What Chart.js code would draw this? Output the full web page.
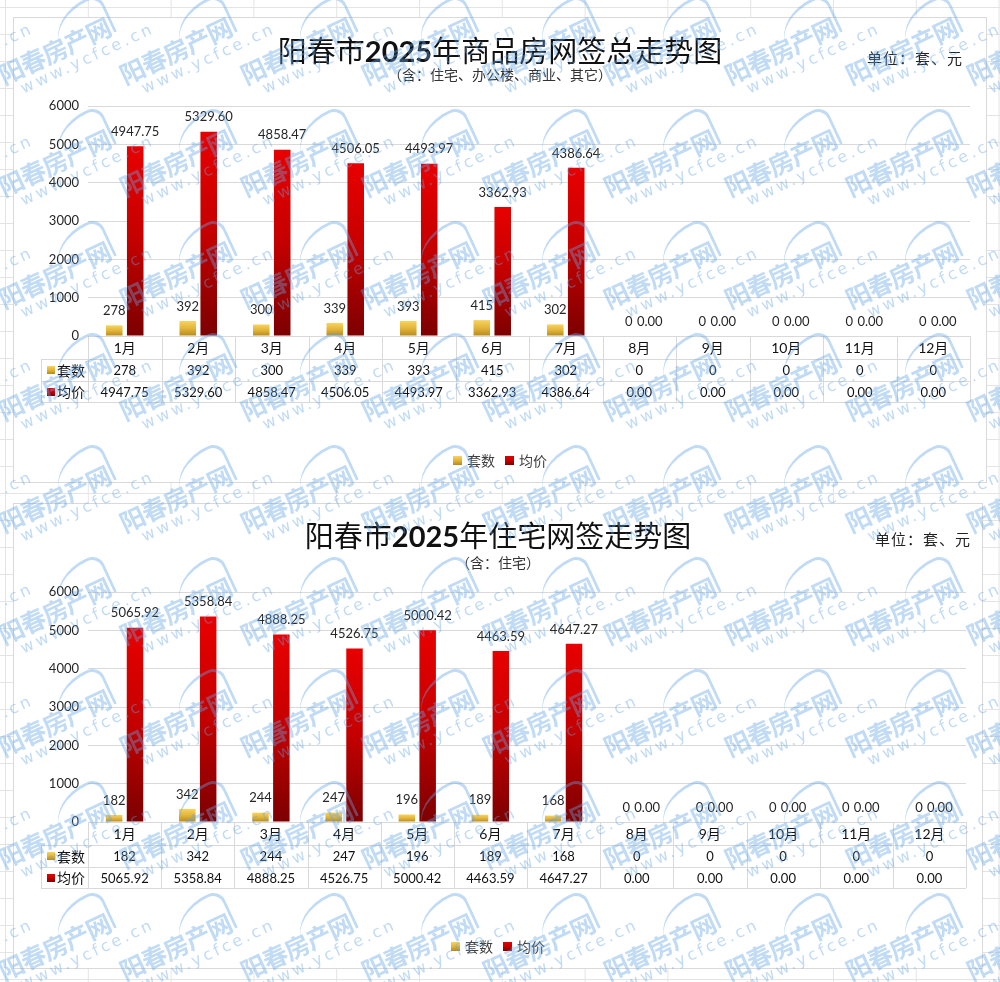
<!DOCTYPE html>
<html lang="zh-CN">
<head>
<meta charset="utf-8">
<title>阳春市2025年网签走势图</title>
<script src="https://cdn.jsdelivr.net/npm/chart.js@4.4.1/dist/chart.umd.min.js"></script>
<style>
  html, body { margin: 0; padding: 0; }
  body {
    width: 1000px; height: 982px; position: relative; overflow: hidden;
    background-color: #fff;
    background-image:
      linear-gradient(to right, #e4e4e4 1px, transparent 1px),
      linear-gradient(to bottom, #e4e4e4 1px, transparent 1px);
    background-size: 82.8px 27px;
    background-position: 5px 7px;
    font-family: Lato, "Noto Sans CJK SC", sans-serif;
  }
  .box { position: absolute; left: 13px; background: #fff; border: 1px solid #d9d9d9; box-sizing: border-box; }
  .box canvas { position: absolute; left: 0; top: 0; }
  .title { position: absolute; left: 0; right: 0; text-align: center; font-size: 29px; line-height: 1; color: #111;
           font-family: "Noto Sans CJK SC", sans-serif; white-space: nowrap; }
  .title b { font-family: Lato, sans-serif; font-weight: 700; }
  .sub { position: absolute; left: 0; right: 0; text-align: center; font-size: 14px; line-height: 1; color: #333;
         font-family: "Noto Sans CJK SC", sans-serif; }
  .unit { position: absolute; font-size: 15px; line-height: 1; color: #222; letter-spacing: 1px;
          font-family: "Noto Sans CJK SC", sans-serif; }
  #wm { position: absolute; left: 0; top: 0; width: 1000px; height: 982px; pointer-events: none; overflow: hidden; }
  .tile { position: absolute; transform-origin: 0 26px; transform: rotate(-25deg); color: rgba(100, 165, 230, 0.4); white-space: nowrap; }
  .tile .t1 { font: 700 25px/26px "Noto Sans CJK SC", sans-serif; letter-spacing: -1px; }
  .tile .t2 { font: 400 16px/18px "DejaVu Sans", sans-serif; letter-spacing: 3px; margin-left: 14px; }
  .tile .arch { position: absolute; left: 68px; top: -20px; width: 54px; height: 40px;
                border-top: 3px solid rgba(100, 165, 230, 0.4); border-right: 3px solid rgba(100, 165, 230, 0.4);
                border-top-left-radius: 50px 36px; border-top-right-radius: 16px 16px; }
</style>
</head>
<body>

<div class="box" style="top:17px; width:974px; height:466px;">
  <canvas id="chartAll" width="972" height="464"></canvas>
  <div class="title" style="top:17px;">阳春市<b>2025</b>年商品房网签总走势图</div>
  <div class="sub" style="top:49px;">（含：住宅、办公楼、商业、其它）</div>
  <div class="unit" style="left:853px; top:32px;">单位：套、元</div>
</div>

<div class="box" style="top:503px; width:970px; height:466px;">
  <canvas id="chartHome" width="968" height="464"></canvas>
  <div class="title" style="top:16px;">阳春市<b>2025</b>年住宅网签走势图</div>
  <div class="sub" style="top:51px;">（含：住宅）</div>
  <div class="unit" style="left:861px; top:27px;">单位：套、元</div>
</div>

<div id="wm"></div>

<script>
// ===== Datos =====
const months = ["1月", "2月", "3月", "4月", "5月", "6月", "7月", "8月", "9月", "10月", "11月", "12月"];
const seriesNames = ["套数", "均价"];

// 商品房（住宅、办公楼、商业、其它）
const allUnits = [278, 392, 300, 339, 393, 415, 302, 0, 0, 0, 0, 0];
const allPrice = [4947.75, 5329.60, 4858.47, 4506.05, 4493.97, 3362.93, 4386.64, 0, 0, 0, 0, 0];

// 住宅
const homeUnits = [182, 342, 244, 247, 196, 189, 168, 0, 0, 0, 0, 0];
const homePrice = [5065.92, 5358.84, 4888.25, 4526.75, 5000.42, 4463.59, 4647.27, 0, 0, 0, 0, 0];

const yTicks = [0, 1000, 2000, 3000, 4000, 5000, 6000];

// ===== Estilos =====
const FONT = 'Lato, "Noto Sans CJK SC", sans-serif';
const goldStops = [[0, "#f8d45c"], [0.5, "#e2b43a"], [1, "#b48a1e"]];
const redStops = [[0, "#e80000"], [0.5, "#c40000"], [1, "#7c0000"]];
const rowH = [23, 22, 21];

Chart.defaults.font.family = FONT;
Chart.defaults.color = "#262626";

// degradado por barra (de arriba hacia la base)
function barFill(stops, solid) {
  return (c) => {
    const chart = c.chart;
    if (c.type !== "data" || !chart.chartArea) return solid;
    const y = chart.scales.y;
    const top = y.getPixelForValue(c.raw);
    const base = y.getPixelForValue(0);
    if (base - top < 1) return solid;
    const g = chart.ctx.createLinearGradient(0, top, 0, base);
    stops.forEach(([o, col]) => g.addColorStop(o, col));
    return g;
  };
}

function keyBox(ctx, x, y, size, stops) {
  const g = ctx.createLinearGradient(0, y, 0, y + size);
  stops.forEach(([o, col]) => g.addColorStop(o, col));
  ctx.fillStyle = g;
  ctx.fillRect(x, y, size, size);
}

function fmt(ds, v) {
  return v.toFixed(ds.decimals);
}

// ===== Etiquetas sobre las barras =====
const valueLabels = {
  id: "valueLabels",
  afterDatasetsDraw(chart) {
    const ctx = chart.ctx;
    ctx.save();
    ctx.font = "13px " + FONT;
    ctx.fillStyle = "#262626";
    ctx.textAlign = "center";
    ctx.textBaseline = "bottom";
    chart.data.datasets.forEach((ds, di) => {
      chart.getDatasetMeta(di).data.forEach((bar, i) => {
        ctx.fillText(fmt(ds, ds.data[i]), bar.x, bar.y - 8);
      });
    });
    ctx.restore();
  },
};

// ===== Tabla de datos + leyenda =====
const dataTable = {
  id: "dataTable",
  afterDraw(chart) {
    const { ctx, chartArea } = chart;
    const xs = chart.scales.x;
    const n = chart.data.labels.length;
    const left = chartArea.left;
    const right = chartArea.right;
    const colW = (right - left) / n;
    const headL = 27;
    const r0 = chartArea.bottom;
    const rows = [r0, r0 + rowH[0], r0 + rowH[0] + rowH[1], r0 + rowH[0] + rowH[1] + rowH[2]];
    const px = (v) => Math.round(v) + 0.5;

    ctx.save();
    ctx.strokeStyle = "#d9d9d9";
    ctx.lineWidth = 1;
    ctx.beginPath();
    ctx.moveTo(left, px(rows[0])); ctx.lineTo(right, px(rows[0]));
    for (let r = 1; r < rows.length; r++) {
      ctx.moveTo(headL, px(rows[r])); ctx.lineTo(right, px(rows[r]));
    }
    for (let i = 0; i <= n; i++) {
      const xi = px(left + i * colW);
      ctx.moveTo(xi, rows[0]); ctx.lineTo(xi, rows[3]);
    }
    ctx.moveTo(px(headL), rows[1]); ctx.lineTo(px(headL), rows[3]);
    ctx.stroke();

    ctx.fillStyle = "#111";
    ctx.textAlign = "center";
    ctx.textBaseline = "middle";
    ctx.font = "14px " + FONT;
    chart.data.labels.forEach((lab, i) => {
      ctx.fillText(lab, xs.getPixelForValue(i), (rows[0] + rows[1]) / 2 + 1);
    });
    ctx.font = "13px " + FONT;
    chart.data.datasets.forEach((ds, di) => {
      const cy = (rows[di + 1] + rows[di + 2]) / 2 + 1;
      ds.data.forEach((v, i) => {
        ctx.fillText(fmt(ds, v), xs.getPixelForValue(i), cy);
      });
    });

    // claves de la tabla
    ctx.textAlign = "left";
    ctx.font = "14px " + FONT;
    chart.data.datasets.forEach((ds, di) => {
      const cy = (rows[di + 1] + rows[di + 2]) / 2;
      keyBox(ctx, headL + 6, Math.round(cy - 4), 8, ds.keyStops);
      ctx.fillStyle = "#111";
      ctx.fillText(ds.label, headL + 16, cy + 1);
    });

    // leyenda inferior
    const ly = rows[3] + 58;
    ctx.font = "14px " + FONT;
    const widths = chart.data.datasets.map((ds) => 9 + 5 + ctx.measureText(ds.label).width);
    const total = widths.reduce((a, b) => a + b, 0) + 10 * (widths.length - 1);
    let lx = chart.width / 2 - total / 2;
    chart.data.datasets.forEach((ds, di) => {
      keyBox(ctx, Math.round(lx), Math.round(ly - 4.5), 9, ds.keyStops);
      ctx.fillStyle = "#404040";
      ctx.fillText(ds.label, lx + 14, ly + 1);
      lx += widths[di] + 10;
    });
    ctx.restore();
  },
};

function makeChart(id, units, price) {
  const el = document.getElementById(id);
  return new Chart(el, {
    type: "bar",
    data: {
      labels: months,
      datasets: [
        {
          label: seriesNames[0],
          data: units,
          decimals: 0,
          keyStops: goldStops,
          backgroundColor: barFill(goldStops, "#e2b43a"),
          borderWidth: 0,
          categoryPercentage: 0.57,
          barPercentage: 0.79,
        },
        {
          label: seriesNames[1],
          data: price,
          decimals: 2,
          keyStops: redStops,
          backgroundColor: barFill(redStops, "#c40000"),
          borderWidth: 0,
          categoryPercentage: 0.57,
          barPercentage: 0.79,
        },
      ],
    },
    options: {
      responsive: false,
      animation: false,
      layout: { padding: { top: 88, right: 16, bottom: 46, left: 0 } },
      plugins: {
        legend: { display: false },
        tooltip: { enabled: false },
      },
      scales: {
        x: {
          ticks: { display: false },
          grid: { display: false },
          border: { display: false },
          afterFit: (s) => { s.height = 100; },
        },
        y: {
          min: yTicks[0],
          max: yTicks[yTicks.length - 1],
          ticks: {
            stepSize: yTicks[1] - yTicks[0],
            padding: 9,
            color: "#262626",
            font: { size: 13 },
            callback: (v) => String(v),
          },
          grid: { color: "#d9d9d9", drawTicks: false },
          border: { display: false },
          afterFit: (s) => { s.width = 74; },
        },
      },
    },
    plugins: [valueLabels, dataTable],
  });
}

makeChart("chartAll", allUnits, allPrice);
makeChart("chartHome", homeUnits, homePrice);

// ===== Marca de agua =====
const wm = document.getElementById("wm");
for (let r = 0; r < 10; r++) {
  for (let c = -1; c < 9; c++) {
    const x = 5 + 121 * c;
    const y = 87 + 112 * r;
    const t = document.createElement("div");
    t.className = "tile";
    t.style.left = x + "px";
    t.style.top = (y - 26) + "px";
    t.innerHTML = '<div class="arch"></div><div class="t1">阳春房产网</div><div class="t2">www.ycfce.cn</div>';
    wm.appendChild(t);
  }
}
</script>
</body>
</html>
